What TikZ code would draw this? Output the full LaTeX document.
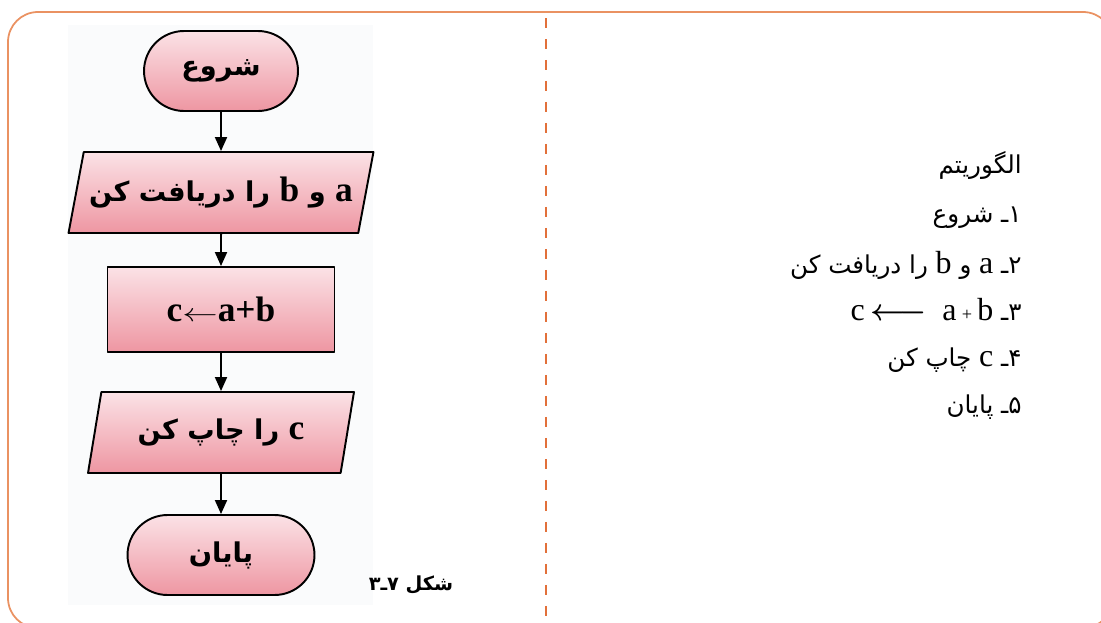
\documentclass[tikz,border=0pt]{standalone}
\usepackage{amsmath}
\usepackage{fontspec}
\setmainfont{Liberation Serif}[Scale=1.3]
\newfontfamily\fa[Script=Arabic]{DejaVu Sans}
\TeXXeTstate=1
\usetikzlibrary{shapes.geometric,arrows.meta}
\definecolor{frameorange}{RGB}{234,146,98}
\definecolor{dashorange}{RGB}{226,112,58}
\definecolor{pinktop}{RGB}{251,226,230}
\definecolor{pinkbot}{RGB}{238,150,162}
\definecolor{photobg}{RGB}{250,251,252}
\newcommand\fatxt[1]{\fa\beginR #1\endR}
\newcommand\lat[1]{{\rmfamily #1}}
\tikzset{
  chart/.style={draw=black, line width=1.1pt, top color=pinktop, bottom color=pinkbot,
    font=\fa\bfseries\fontsize{15.5}{19}\selectfont, inner sep=0pt},
  terminal/.style={chart, rectangle, rounded corners=0.8cm, minimum height=1.6cm},
  io/.style={chart, trapezium, trapezium left angle=64, trapezium right angle=116,
    trapezium stretches body, minimum height=1.62cm},
  process/.style={chart, rectangle, minimum width=4.54cm, minimum height=1.7cm},
  flow/.style={->, line width=1.1pt},
  algline/.style={anchor=east, inner sep=0pt, font=\fa\fontsize{14}{17}\selectfont},
}
\begin{document}
\begin{tikzpicture}[x=0.02cm, y=-0.02cm, >={Triangle[length=0.28cm,width=0.24cm]}, line join=round]
\useasboundingbox (0,0) rectangle (1101,622);
\clip (0,0) rectangle (1101,622);
% frame and separator
\draw[frameorange, line width=1pt, rounded corners=0.6cm] (8,12) rectangle (1113,628);
\draw[dashorange, line width=1.3pt, dash pattern=on 0.2cm off 0.22cm] (546,18) -- (546,622);
\fill[photobg] (68,25) rectangle (373,605);
% flowchart
\node[terminal, minimum width=3.08cm] (start) at (221,71) {\fatxt{شروع}};
\node[io, minimum width=6.1cm] (read) at (221,192.5) {\fatxt{\lat{a} و \lat{b} را دریافت کن}};
\node[process] (sum) at (221,309.5) {\lat{c\scalebox{1.4}[1]{$\leftarrow$}a+b}};
\node[io, minimum width=5.32cm] (print) at (221,432.5) {\fatxt{\lat{c} را چاپ کن}};
\node[terminal, minimum width=3.74cm] (stop) at (221,555) {\fatxt{پایان}};
\draw[flow] (start) -- (read);
\draw[flow] (read) -- (sum);
\draw[flow] (sum) -- (print);
\draw[flow] (print) -- (stop);
\node[font=\fa\bfseries\fontsize{11}{13}\selectfont] (caption) at (411,585) {\fatxt{شکل ۷ـ۳}};
% algorithm
\node[algline] (alg) at (1022,165) {\fatxt{الگوریتم}};
\node[algline] (s1) at (1022,218) {\fatxt{۱ـ شروع}};
\node[algline] (s2) at (1022,265) {\fatxt{۲ـ \lat{a} و \lat{b} را دریافت کن}};
\node[algline] (s3) at (1022,310) {\fatxt{۳ـ \beginL\lat{c\,{\fontsize{18}{18}\selectfont$\boldsymbol{\longleftarrow}$}\enspace a\,{\fontsize{8}{8}\selectfont+}\,b}\endL}};
\node[algline] (s4) at (1022,360) {\fatxt{۴ـ \lat{c} چاپ کن}};
\node[algline] (s5) at (1022,407) {\fatxt{۵ـ پایان}};
\end{tikzpicture}
\end{document}
